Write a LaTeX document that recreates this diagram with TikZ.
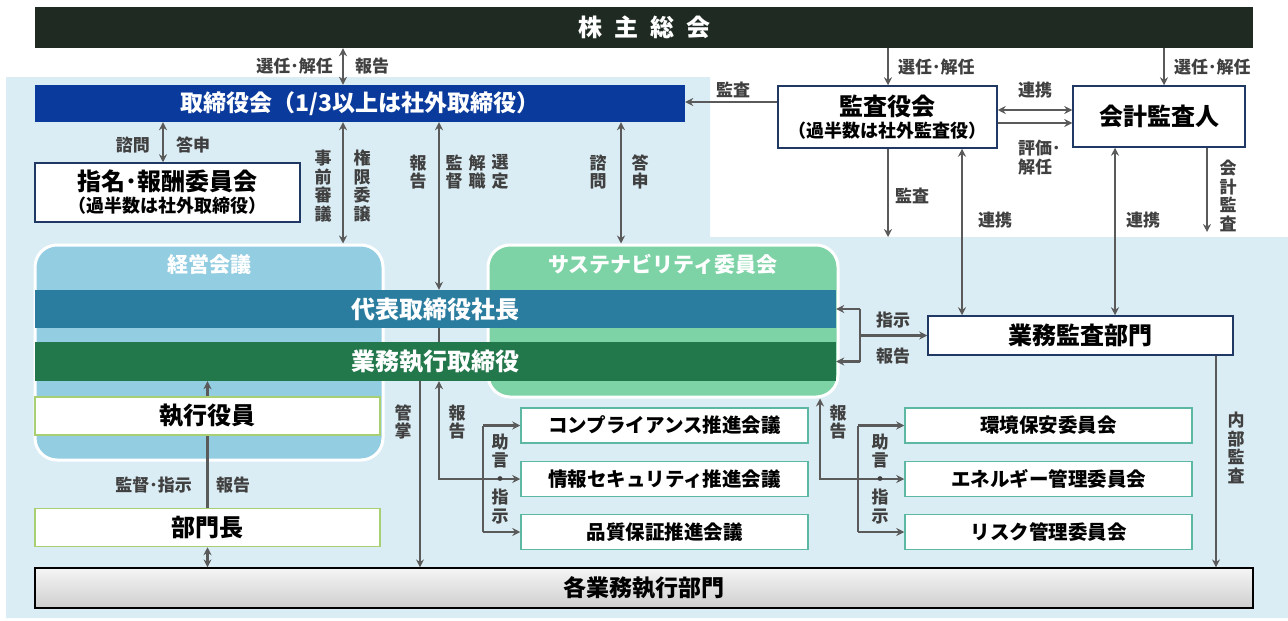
\documentclass[tikz,border=0pt]{standalone}
\usepackage{fontspec}
\setmainfont{Noto Sans CJK JP}
\usetikzlibrary{arrows.meta,positioning}

\definecolor{agmdark}{HTML}{1E2A22}
\definecolor{boardblue}{HTML}{0A3A9C}
\definecolor{ceoteal}{HTML}{2B7D9F}
\definecolor{execgreen}{HTML}{22774B}
\definecolor{keieiblue}{HTML}{93CDE1}
\definecolor{sustgreen}{HTML}{7DD3A6}
\definecolor{bgblue}{HTML}{DBEDF4}
\definecolor{navy}{HTML}{1F3864}
\definecolor{tealbox}{HTML}{5DB8A3}
\definecolor{limebox}{HTML}{A8CF72}
\definecolor{arrgray}{HTML}{5A5A5A}
\definecolor{labgray}{HTML}{404040}

\tikzset{
  every node/.style={inner sep=0pt},
  bar/.style={text=white, font=\bfseries\fontsize{24}{24}\selectfont},
  wbox/.style={draw=navy, line width=1.5pt, fill=white, align=center},
  gbox/.style={draw=tealbox, line width=1.5pt, fill=white, minimum width=287pt, minimum height=35pt, font=\bfseries\fontsize{19.5}{19.5}\selectfont},
  lbox/.style={draw=limebox, line width=1.5pt, fill=white, minimum width=345pt, minimum height=38pt, font=\bfseries\fontsize{24}{24}\selectfont},
  round/.style={rounded corners=22pt, draw=white, line width=3pt},
  ttl/.style={text=white, font=\bfseries\fontsize{21}{21}\selectfont},
  lab/.style={text=labgray, font=\bfseries\fontsize{17}{18.5}\selectfont, align=center},
  ln/.style={draw=arrgray, line width=2.2pt},
  arr/.style={ln, -{Stealth[length=8pt,width=8pt]}},
  dbl/.style={ln, {Stealth[length=8pt,width=8pt]}-{Stealth[length=8pt,width=8pt]}},
}

\begin{document}
\begin{tikzpicture}[x=1pt,y=-1pt]
    \useasboundingbox (0,0) rectangle (1288,621);
    \fill[bgblue] (6,77) -- (710,77) -- (710,237) -- (1288,237) -- (1288,618) -- (6,618) -- cycle;

    % columns and rows of the connectors
    \coordinate (xsel) at (343,0);
    \coordinate (xkan) at (888,0);
    \coordinate (xkai) at (1164,0);
    \coordinate (xnom) at (163,0);
    \coordinate (xsup) at (439,0);
    \coordinate (xsus) at (621,0);
    \coordinate (xren) at (962,0);
    \coordinate (xrenb) at (1115,0);
    \coordinate (xacc) at (1207,0);
    \coordinate (xkansho) at (420,0);
    \coordinate (xbrl) at (483,0);
    \coordinate (xrepr) at (820,0);
    \coordinate (xbrr) at (858,0);
    \coordinate (xbra) at (860,0);
    \coordinate (xaud) at (1216,0);
    \coordinate (yaud) at (0,102);
    \coordinate (yren) at (0,110);
    \coordinate (yhyo) at (0,123);
    \coordinate (ykai) at (0,237);
    \coordinate (ykaib) at (0,232);

    % top
    \node[bar, fill=agmdark, minimum width=1218pt, minimum height=41pt, font=\bfseries\fontsize{24}{24}\selectfont] (agm) at (644,27.5) {株\hspace{12pt}主\hspace{12pt}総\hspace{12pt}会};
    \node[bar, fill=boardblue, minimum width=650pt, minimum height=37pt, font=\bfseries\fontsize{23}{23}\selectfont] (board) at (360,103.5) {取締役会（1/3以上は社外取締役）};
    \node[wbox, minimum width=219pt, minimum height=62pt, font=\bfseries] (kansa) at (887.5,117) {\fontsize{24}{27}\selectfont 監査役会\\[3pt]\fontsize{18}{24}\selectfont（過半数は社外監査役）};
    \node[wbox, minimum width=172pt, minimum height=61pt, font=\bfseries\fontsize{24}{24}\selectfont] (kaikei) at (1159,116.5) {会計監査人};
    \node[wbox, minimum width=265pt, minimum height=59pt, font=\bfseries] (nomi) at (167.5,192.5) {\fontsize{24}{27}\selectfont 指名･報酬委員会\\[3pt]\fontsize{18}{24}\selectfont（過半数は社外取締役）};

    % meetings
    \node[round, fill=keieiblue, minimum width=348pt, minimum height=215pt] (keiei) at (209,352.5) {};
    \node[ttl] (keieit) at ([yshift=-21pt]keiei.north) {経営会議};
    \node[round, fill=sustgreen, minimum width=350pt, minimum height=152pt] (sust) at (663,321) {};
    \node[ttl] (sustt) at ([yshift=-21pt]sust.north) {サステナビリティ委員会};
    \node[bar, fill=ceoteal, minimum width=801pt, minimum height=38pt] (ceo) at (435.5,309) {代表取締役社長};
    \node[bar, fill=execgreen, minimum width=801pt, minimum height=39pt] (exec) at (435.5,361.5) {業務執行取締役};
    \node[lbox] (yakuin) at (207.5,416) {執行役員};
    \node[lbox] (bucho) at (207.5,527.5) {部門長};
    \node[wbox, minimum width=305pt, minimum height=39pt, font=\bfseries\fontsize{24}{24}\selectfont] (audit) at (1080.5,335.5) {業務監査部門};

    \node[gbox] (comp) at (664.5,425.5) {コンプライアンス推進会議};
    \node[gbox] (info) at (664.5,479) {情報セキュリティ推進会議};
    \node[gbox] (qual) at (664.5,532) {品質保証推進会議};
    \node[gbox] (env) at (1048.5,425.5) {環境保安委員会};
    \node[gbox] (ener) at (1048.5,479) {エネルギー管理委員会};
    \node[gbox] (risk) at (1048.5,532) {リスク管理委員会};

    \node[bar, draw=black, line width=1.2pt, top color=gray!8, bottom color=gray!38, text=black, minimum width=1218pt, minimum height=40pt, font=\bfseries\fontsize{23}{23}\selectfont] (dept) at (644,588) {各業務執行部門};

    % connectors at the top
    \draw[dbl] (agm.south -| xsel) -- (board.north -| xsel);
    \draw[arr] (agm.south -| xkan) -- (kansa.north -| xkan);
    \draw[arr] (agm.south -| xkai) -- (kaikei.north -| xkai);
    \draw[arr] (kansa.west |- yaud) -- (board.east |- yaud);
    \draw[dbl] (kansa.east |- yren) -- (kaikei.west |- yren);
    \draw[arr] (kansa.east |- yhyo) -- (kaikei.west |- yhyo);
    \draw[arr] (kansa.south -| xkan) -- (ykai -| xkan);
    \draw[dbl] (kansa.south -| xren) -- (audit.north -| xren);
    \draw[dbl] (kaikei.south -| xrenb) -- (audit.north -| xrenb);
    \draw[arr] (kaikei.south -| xacc) -- (ykaib -| xacc);
    \draw[dbl] (board.south -| xnom) -- (nomi.north -| xnom);
    \draw[dbl] (board.south -| xsel) -- (keiei.north -| xsel);
    \draw[dbl] (board.south -| xsup) -- (ceo.north -| xsup);
    \draw[dbl] (board.south -| xsus) -- (sust.north -| xsus);
    \draw[ln] (ceo.south -| xsup) -- (exec.north -| xsup);

    % connectors below
    \draw[arr] (exec.south -| xkansho) -- (dept.north -| xkansho);
    \draw[arr] (info.west -| xbrl) -| (exec.south -| xsup);
    \draw[ln] (comp.west -| xbrl) -- (qual.west -| xbrl);
    \draw[arr] (comp.west -| xbrl) -- (comp.west);
    \draw[arr] (info.west -| xbrl) -- (info.west);
    \draw[arr] (qual.west -| xbrl) -- (qual.west);
    \draw[arr] (ener.west -| xbrr) -| (sust.south -| xrepr);
    \draw[ln] (env.west -| xbrr) -- (risk.west -| xbrr);
    \draw[arr] (env.west -| xbrr) -- (env.west);
    \draw[arr] (ener.west -| xbrr) -- (ener.west);
    \draw[arr] (risk.west -| xbrr) -- (risk.west);
    \draw[ln] (ceo.east -| xbra) -- (exec.east -| xbra);
    \draw[arr] (ceo.east -| xbra) -- (ceo.east);
    \draw[arr] (exec.east -| xbra) -- (exec.east);
    \draw[arr] (audit.west -| xbra) -- (audit.west);
    \draw[arr] (audit.south -| xaud) -- (dept.north -| xaud);
    \draw[arr] (yakuin.north) -- (exec.south -| yakuin.north);
    \draw[ln] (yakuin.south) -- (bucho.north);
    \draw[dbl] (bucho.south) -- (dept.north -| bucho.south);

    % labels
    \node[lab, anchor=east] (lsel) at (333,66) {選任･解任};
    \node[lab, anchor=west] (lrep) at (355,66) {報告};
    \node[lab, anchor=west] (lselk) at (898,67) {選任･解任};
    \node[lab, anchor=west] (lselc) at (1174,67) {選任･解任};
    \node[lab] (laud) at (733,90) {監査};
    \node[lab] (lren) at (1035,90) {連携};
    \node[lab, anchor=north west, align=left] (lhyo) at (1018,140) {評価･\\解任};
    \node[lab] (laudb) at (912,196) {監査};
    \node[lab] (lrenb) at (995,220) {連携};
    \node[lab] (lrenc) at (1143,220) {連携};
    \node[lab] (lacc) at (1228,196) {会\\計\\監\\査};
    \node[lab, anchor=east] (lshi) at (150,145) {諮問};
    \node[lab, anchor=west] (ltou) at (176,145) {答申};
    \node[lab] (ljizen) at (323,186) {事\\前\\審\\議};
    \node[lab] (lken) at (362,186) {権\\限\\委\\譲};
    \node[lab] (lhou) at (418,172) {報\\告};
    \node[lab] (lkan) at (454,172) {監\\督};
    \node[lab] (lkai) at (477,172) {解\\職};
    \node[lab] (lsen) at (500,172) {選\\定};
    \node[lab] (lshib) at (598,172) {諮\\問};
    \node[lab] (ltoub) at (640,172) {答\\申};
    \node[lab] (lshiji) at (893,320) {指示};
    \node[lab] (lhoua) at (893,356) {報告};
    \node[lab] (lkansho) at (403,422) {管\\掌};
    \node[lab] (lhoub) at (457,422) {報\\告};
    \node[lab] (ljo) at (500,479) {助\\言\\・\\指\\示};
    \node[lab] (lhouc) at (838,422) {報\\告};
    \node[lab] (ljob) at (880,479) {助\\言\\・\\指\\示};
    \node[lab] (lnai) at (1236,448) {内\\部\\監\\査};
    \node[lab, anchor=east] (lkantoku) at (192,485) {監督･指示};
    \node[lab, anchor=west] (lhoud) at (216,485) {報告};
\end{tikzpicture}
\end{document}
